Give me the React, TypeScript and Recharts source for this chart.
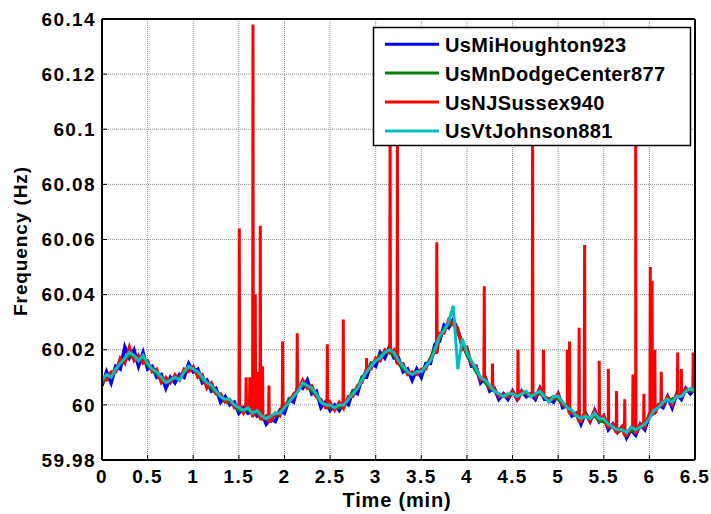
import React from 'react';
import { LineChart, Line, XAxis, YAxis, CartesianGrid } from 'recharts';

// sampled every 0.05 min, 0 .. 6.5 (one row = half a minute)
const blueValues = [
  60.007, 60.012, 60.008, 60.014, 60.013, 60.021, 60.017, 60.020, 60.014, 60.019,
  60.013, 60.014, 60.010, 60.011, 60.006, 60.010, 60.008, 60.011, 60.010, 60.015,
  60.012, 60.013, 60.008, 60.009, 60.005, 60.006, 60.001, 60.003, 60.000, 60.001,
  59.997, 59.999, 59.997, 59.998, 59.996, 59.997, 59.993, 59.995, 59.994, 59.998,
  59.997, 60.002, 60.001, 60.007, 60.006, 60.009, 60.004, 60.005, 59.999, 60.001,
  59.998, 60.000, 59.998, 60.001, 60.000, 60.005, 60.004, 60.010, 60.010, 60.015,
  60.014, 60.019, 60.017, 60.021, 60.017, 60.017, 60.012, 60.013, 60.009, 60.013,
  60.010, 60.015, 60.015, 60.022, 60.023, 60.029, 60.028, 60.031, 60.027, 60.022,
  60.020, 60.014, 60.014, 60.008, 60.010, 60.005, 60.006, 60.002, 60.004, 60.002,
  60.005, 60.002, 60.005, 60.003, 60.004, 60.002, 60.006, 60.002, 60.002, 60.001,
  60.004, 59.999, 60.000, 59.996, 59.997, 59.993, 59.997, 59.994, 59.998, 59.994,
  59.996, 59.991, 59.993, 59.990, 59.992, 59.988, 59.991, 59.989, 59.993, 59.991,
  59.996, 59.997, 60.000, 59.999, 60.003, 59.999, 60.004, 60.002, 60.006, 60.004,
  60.006,
];

const greenValues = [
  60.008, 60.010, 60.011, 60.012, 60.016, 60.016, 60.018, 60.017, 60.017, 60.017,
  60.014, 60.013, 60.011, 60.009, 60.009, 60.009, 60.010, 60.010, 60.012, 60.013,
  60.013, 60.011, 60.009, 60.007, 60.006, 60.004, 60.003, 60.001, 60.001, 60.000,
  59.998, 59.998, 59.998, 59.997, 59.997, 59.995, 59.995, 59.996, 59.996, 59.998,
  59.999, 60.002, 60.003, 60.006, 60.007, 60.007, 60.005, 60.003, 60.001, 60.000,
  59.999, 59.999, 59.999, 60.000, 60.002, 60.005, 60.006, 60.010, 60.012, 60.015,
  60.016, 60.018, 60.019, 60.019, 60.018, 60.015, 60.013, 60.012, 60.011, 60.012,
  60.012, 60.014, 60.017, 60.021, 60.024, 60.028, 60.029, 60.030, 60.026, 60.022,
  60.018, 60.015, 60.012, 60.010, 60.008, 60.006, 60.005, 60.004, 60.003, 60.003,
  60.004, 60.003, 60.004, 60.004, 60.003, 60.004, 60.004, 60.003, 60.002, 60.003,
  60.002, 60.000, 59.999, 59.997, 59.996, 59.995, 59.996, 59.995, 59.996, 59.994,
  59.994, 59.992, 59.992, 59.990, 59.991, 59.989, 59.991, 59.990, 59.992, 59.993,
  59.996, 59.998, 60.000, 60.001, 60.002, 60.002, 60.003, 60.004, 60.005, 60.005,
  60.005,
];

const redValues = [
  60.010, 60.009, 60.012, 60.012, 60.017, 60.015, 60.021, 60.016, 60.018, 60.015,
  60.016, 60.012, 60.013, 60.008, 60.010, 60.008, 60.011, 60.009, 60.013, 60.012,
  60.014, 60.010, 60.011, 60.006, 60.008, 60.004, 60.004, 60.001, 60.002, 59.999,
  60.000, 59.997, 59.999, 59.996, 59.999, 59.995, 59.996, 59.994, 59.997, 59.996,
  60.000, 60.001, 60.004, 60.005, 60.009, 60.006, 60.007, 60.003, 60.002, 59.999,
  60.001, 59.998, 60.001, 59.999, 60.003, 60.003, 60.007, 60.008, 60.013, 60.013,
  60.017, 60.016, 60.020, 60.019, 60.020, 60.015, 60.015, 60.011, 60.012, 60.011,
  60.013, 60.013, 60.017, 60.019, 60.026, 60.026, 60.031, 60.029, 60.028, 60.020,
  60.021, 60.015, 60.014, 60.009, 60.010, 60.006, 60.006, 60.003, 60.004, 60.003,
  60.005, 60.002, 60.005, 60.004, 60.004, 60.003, 60.006, 60.003, 60.002, 60.002,
  60.004, 60.000, 60.000, 59.997, 59.997, 59.994, 59.997, 59.994, 59.998, 59.995,
  59.996, 59.992, 59.993, 59.990, 59.992, 59.989, 59.992, 59.990, 59.993, 59.992,
  59.997, 59.997, 60.000, 60.000, 60.003, 60.000, 60.004, 60.003, 60.006, 60.005,
  60.006,
];

// short bursts on the Sussex unit: [time (min), peak (Hz)]
const redSpikes = [
  [1.505, 60.064], [1.58, 60.010], [1.62, 60.010], [1.655, 60.138], [1.68, 60.040],
  [1.71, 60.012], [1.735, 60.065], [1.76, 60.014], [1.83, 60.007], [1.98, 60.023],
  [2.14, 60.026], [2.47, 60.022], [2.645, 60.031], [2.9, 60.017], [3.158, 60.105],
  [3.238, 60.1], [3.67, 60.059], [4.19, 60.043], [4.28, 60.015],
  [4.56, 60.020], [4.72, 60.1], [4.84, 60.020], [5.1, 60.020], [5.125, 60.023],
  [5.23, 60.028], [5.29, 60.058], [5.45, 60.016], [5.55, 60.013], [5.64, 60.005],
  [5.73, 60.002], [5.82, 60.011], [5.85, 60.1], [5.94, 60.004], [6.01, 60.050],
  [6.03, 60.045], [6.06, 60.020], [6.13, 60.012], [6.31, 60.019], [6.35, 60.013],
  [6.48, 60.019],
];

const cyanValues = [
  60.009, 60.011, 60.010, 60.013, 60.015, 60.017, 60.019, 60.018, 60.016, 60.018,
  60.015, 60.013, 60.012, 60.010, 60.008, 60.009, 60.010, 60.009, 60.012, 60.014,
  60.013, 60.012, 60.010, 60.008, 60.007, 60.005, 60.003, 60.002, 60.002, 60.000,
  59.999, 59.998, 59.999, 59.997, 59.998, 59.996, 59.995, 59.996, 59.997, 59.997,
  59.999, 60.001, 60.003, 60.005, 60.008, 60.007, 60.006, 60.004, 60.001, 60.000,
  60.000, 59.999, 60.000, 60.000, 60.002, 60.004, 60.006, 60.009, 60.012, 60.014,
  60.016, 60.017, 60.019, 60.020, 60.019, 60.016, 60.014, 60.012, 60.011, 60.012,
  60.012, 60.014, 60.016, 60.020, 60.025, 60.027, 60.030, 60.036, 60.013, 60.024,
  60.019, 60.016, 60.013, 60.010, 60.009, 60.007, 60.005, 60.004, 60.003, 60.004,
  60.004, 60.003, 60.004, 60.005, 60.003, 60.004, 60.005, 60.003, 60.001, 60.003,
  60.003, 60.001, 59.999, 59.998, 59.996, 59.995, 59.996, 59.995, 59.997, 59.995,
  59.995, 59.993, 59.992, 59.991, 59.991, 59.990, 59.992, 59.991, 59.992, 59.993,
  59.995, 59.998, 59.999, 60.001, 60.002, 60.001, 60.003, 60.003, 60.005, 60.006,
  60.005,
];

const xTicks = [0, 0.5, 1, 1.5, 2, 2.5, 3, 3.5, 4, 4.5, 5, 5.5, 6, 6.5];
const yTicks = [59.98, 60, 60.02, 60.04, 60.06, 60.08, 60.1, 60.12, 60.14];

const series = [
  { name: 'UsMiHoughton923', color: '#0000ff' },
  { name: 'UsMnDodgeCenter877', color: '#008000' },
  { name: 'UsNJSussex940', color: '#ff0000' },
  { name: 'UsVtJohnson881', color: '#00bfbf' },
];

const STEP = 0.05;
const toPoints = (vals: number[]) => vals.map((v, i) => ({ t: +(i * STEP).toFixed(3), v }));

const bluePoints = toPoints(blueValues);
const greenPoints = toPoints(greenValues);
const cyanPoints = toPoints(cyanValues);

// red: base trace plus narrow spikes (rise and fall back to the nearest sample)
const redPoints = (() => {
  const pts = toPoints(redValues);
  redSpikes.forEach(([t, peak]) => {
    const base = redValues[Math.round(t / STEP)];
    pts.push({ t: t - 0.004, v: base }, { t, v: peak }, { t: t + 0.004, v: base });
  });
  return pts.sort((a, b) => a.t - b.t);
})();

const FONT = '"Liberation Sans", Arial, Helvetica, sans-serif';
const tickStyle = { fontSize: 19, fontWeight: 'bold', fill: '#000', fontFamily: FONT, letterSpacing: 1.4 };
const fmtY = (v: number) => String(Number(v.toFixed(2)));
const axisLine = { stroke: '#000', strokeWidth: 2 };

export default function App() {
  return (
    <div style={{ position: 'absolute', left: 0, top: 0, width: 711, height: 514, background: '#fff' }}>
      <LineChart width={711} height={514} margin={{ top: 17, right: 14, bottom: 14, left: 42 }}>
        <CartesianGrid stroke="#8f8f8f" strokeDasharray="1 1" />
        <XAxis
          dataKey="t"
          type="number"
          domain={[0, 6.5]}
          ticks={xTicks}
          interval={0}
          height={40}
          tickSize={-5}
          tickMargin={15}
          tick={tickStyle}
          axisLine={axisLine}
          tickLine={{ stroke: '#000' }}
          allowDataOverflow
        />
        <XAxis
          xAxisId="top"
          orientation="top"
          dataKey="t"
          type="number"
          domain={[0, 6.5]}
          ticks={xTicks}
          interval={0}
          height={2}
          tickSize={-5}
          tickFormatter={() => ''}
          axisLine={axisLine}
          tickLine={{ stroke: '#000' }}
        />
        <YAxis
          type="number"
          domain={[59.98, 60.14]}
          ticks={yTicks}
          interval={0}
          width={60}
          tickSize={-5}
          tickMargin={11}
          tick={tickStyle}
          tickFormatter={fmtY}
          axisLine={axisLine}
          tickLine={{ stroke: '#000' }}
          allowDataOverflow
        />
        <YAxis
          yAxisId="right"
          orientation="right"
          type="number"
          domain={[59.98, 60.14]}
          ticks={yTicks}
          interval={0}
          width={2}
          tickSize={-5}
          tickFormatter={() => ''}
          axisLine={axisLine}
          tickLine={{ stroke: '#000' }}
        />
        <Line data={bluePoints} dataKey="v" name={series[0].name} stroke={series[0].color} strokeWidth={3.5} dot={false} type="linear" isAnimationActive={false} />
        <Line data={greenPoints} dataKey="v" name={series[1].name} stroke={series[1].color} strokeWidth={3} dot={false} type="linear" isAnimationActive={false} />
        <Line data={redPoints} dataKey="v" name={series[2].name} stroke={series[2].color} strokeWidth={3} dot={false} type="linear" isAnimationActive={false} />
        <Line data={cyanPoints} dataKey="v" name={series[3].name} stroke={series[3].color} strokeWidth={3} dot={false} type="linear" isAnimationActive={false} />
      </LineChart>

      {/* axis titles + legend box */}
      <svg width={711} height={514} style={{ position: 'absolute', left: 0, top: 0, pointerEvents: 'none' }}>
        <text x={397} y={506.5} textAnchor="middle" fontFamily={FONT} fontWeight="bold" fontSize={20} letterSpacing={0.8} fill="#000">
          Time (min)
        </text>
        <text transform="translate(26.5,241) rotate(-90)" textAnchor="middle" fontFamily={FONT} fontWeight="bold" fontSize={19} letterSpacing={0.9} fill="#000">
          Frequency (Hz)
        </text>
        <rect x={373.5} y={27.5} width={317} height={118} fill="#fff" stroke="#000" strokeWidth={1.5} />
        {series.map((s, i) => {
          const base = 51.7 + i * 28.9;
          return (
            <g key={s.name}>
              <line x1={385} x2={439} y1={base - 7.5} y2={base - 7.5} stroke={s.color} strokeWidth={3} />
              <text x={445} y={base} fontFamily={FONT} fontWeight="bold" fontSize={20} letterSpacing={0.4} fill="#000">
                {s.name}
              </text>
            </g>
          );
        })}
      </svg>
    </div>
  );
}
